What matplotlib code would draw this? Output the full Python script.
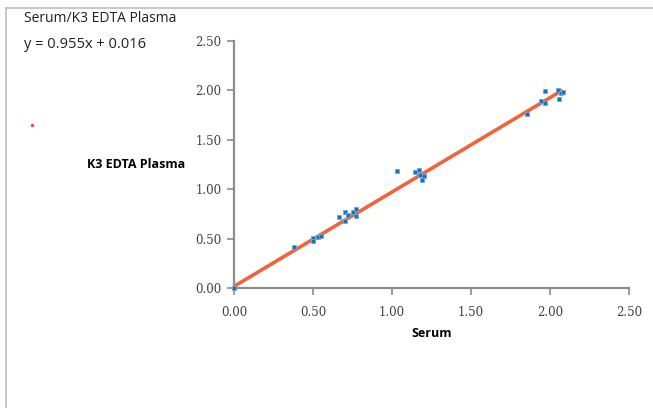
import matplotlib
matplotlib.use("Agg")
import matplotlib.pyplot as plt
from matplotlib.lines import Line2D
import numpy as np

serum = [0.00, 0.38, 0.50, 0.50, 0.53, 0.55, 0.665, 0.705, 0.705, 0.72, 0.755, 0.77, 0.775,
         1.03, 1.145, 1.17, 1.18, 1.19, 1.20,
         1.856, 1.946, 1.97, 1.97, 2.05, 2.06, 2.07, 2.08]
plasma = [0.00, 0.42, 0.51, 0.48, 0.52, 0.53, 0.72, 0.77, 0.68, 0.74, 0.77, 0.73, 0.80,
          1.18, 1.17, 1.19, 1.14, 1.09, 1.13,
          1.76, 1.89, 1.99, 1.87, 2.00, 1.91, 1.97, 1.98]
slope, intercept = 0.955, 0.016
fit_x = [0.0, 2.08]

ticks = [0.0, 0.5, 1.0, 1.5, 2.0, 2.5]
tick_labels = ["0.00", "0.50", "1.00", "1.50", "2.00", "2.50"]

fig = plt.figure(figsize=(6.53, 4.08), dpi=100)
ax = fig.add_axes([234/653, 1-288/408, (629-234)/653, (288-41)/408])

fx = np.array(fit_x)
ax.plot(fx, slope*fx + intercept, color="#F0643C", lw=2.6, zorder=2, solid_capstyle="butt")
ax.scatter(serum, plasma, marker="s", s=10, color="#1F6FB8", edgecolors="#6AA8E0",
           linewidths=0.6, zorder=4, clip_on=False)

ax.set_xlim(0, 2.5)
ax.set_ylim(0, 2.5)
ax.set_xticks(ticks)
ax.set_xticklabels(tick_labels)
ax.set_yticks(ticks)
ax.set_yticklabels(tick_labels)
for s in ["top", "right"]:
    ax.spines[s].set_visible(False)
for s in ["left", "bottom"]:
    ax.spines[s].set_color("#8C8C8C")
    ax.spines[s].set_linewidth(1.6)
    ax.spines[s].set_zorder(3)
ax.tick_params(direction="out", length=5, width=1.2, color="#8C8C8C",
               labelsize=9.5, labelcolor="#404040", pad=4)
for lab in ax.get_xticklabels() + ax.get_yticklabels():
    lab.set_fontfamily("DejaVu Serif")
    lab.set_fontsize(8.5)
ax.tick_params(axis="x", pad=8)

ax.set_xlabel("Serum", fontsize=9, fontweight="bold", family="Open Sans", labelpad=6)
fig.text(185/653, 1-165/408, "K3 EDTA Plasma", fontsize=9, fontweight="bold",
         family="Open Sans", ha="right", va="center")

fig.text(24/653, 1-19/408, "Serum/K3 EDTA Plasma", fontsize=10, family="Open Sans",
         va="center", color="#202020")
fig.text(24/653, 1-45/408, "y = 0.955x + 0.016", fontsize=10.5, family="Open Sans",
         va="center", color="#202020")

fig.add_artist(Line2D([6/653, 6/653], [0, 1-8/408], transform=fig.transFigure,
                      color="#BFBFBF", lw=1.2))
fig.add_artist(Line2D([6/653, 1], [1-8/408, 1-8/408], transform=fig.transFigure,
                      color="#BFBFBF", lw=1.2))
fig.add_artist(Line2D([32/653], [1-125/408], transform=fig.transFigure, marker="o",
                      markersize=1.5, color="#E05050", lw=0))

fig.savefig("out.png", dpi=100)
